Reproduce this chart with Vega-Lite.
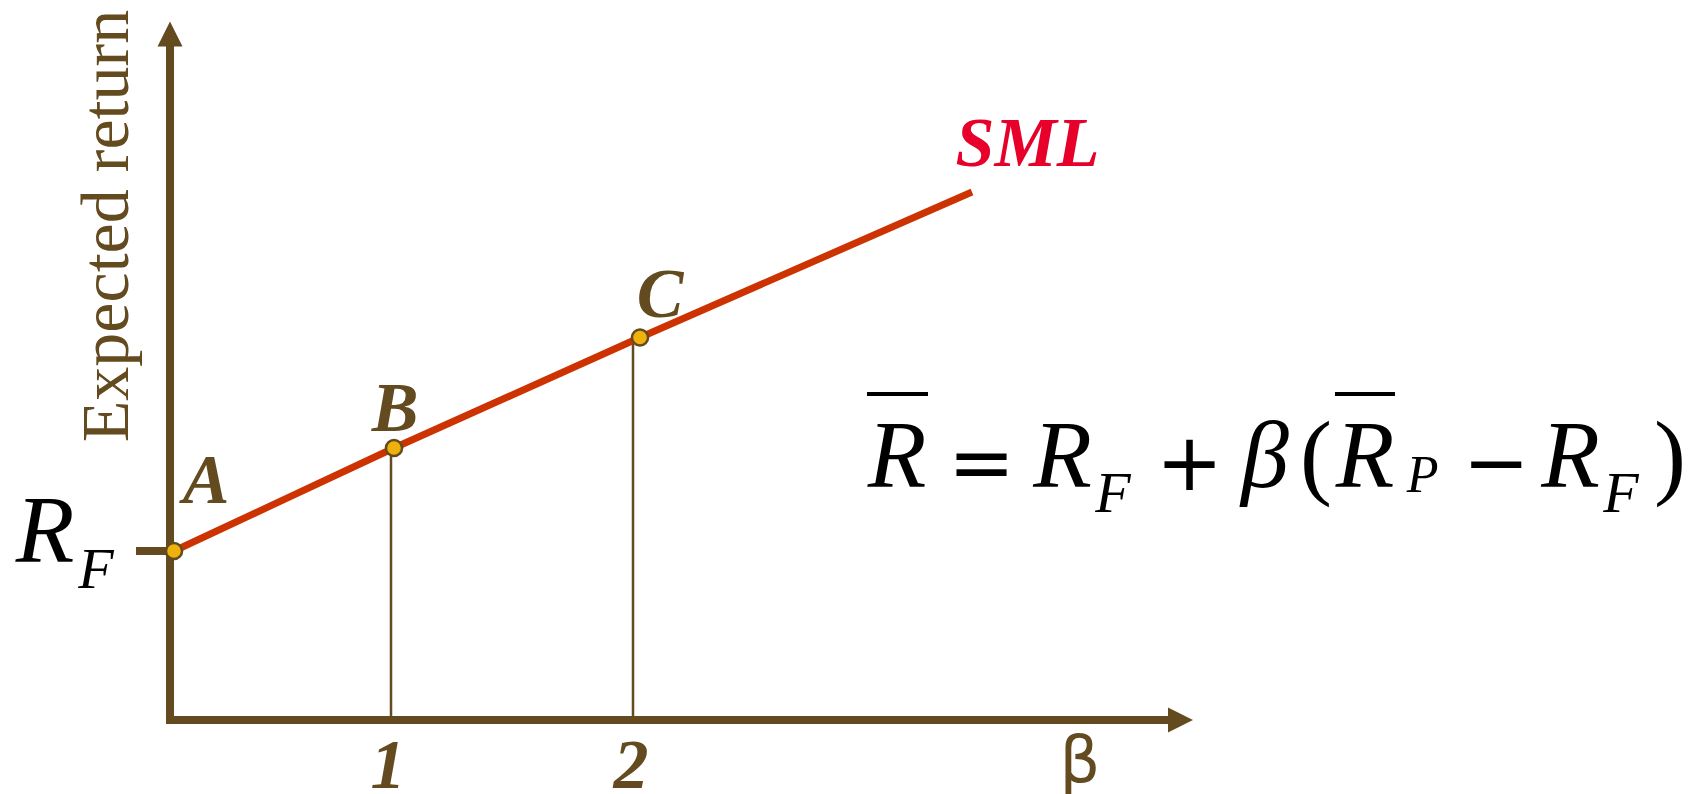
{
  "$schema": "https://vega.github.io/schema/vega-lite/v6.json",
  "width": 1704,
  "height": 794,
  "padding": 0,
  "autosize": {"type": "none"},
  "background": "white",
  "config": {"view": {"stroke": null}},
  "datasets": {
    "axisLines": [
      {"part": "y axis", "x": 0.0868, "y": 0, "x2": 0.0868, "y2": 16.09},
      {"part": "x axis", "x": 0.0702, "y": 0, "x2": 4.2397, "y2": 0},
      {"part": "RF tick", "x": -0.0537, "y": 4.0, "x2": 0.0868, "y2": 4.0}
    ],
    "arrowUp": [{"part": "y arrow", "x": 0.0868, "y": 16.237}],
    "arrowRight": [{"part": "x arrow", "x": 4.2624, "y": 0}],
    "drops": [
      {"point": "B", "x": 1, "y": 0, "y2": 6.438},
      {"point": "C", "x": 2, "y": 0, "y2": 9.053}
    ],
    "sml": [
      {"point": "A", "x": 0.1033, "y": 4.0, "order": 1},
      {"point": "B", "x": 1.0124, "y": 6.438, "order": 2},
      {"point": "C", "x": 2.0289, "y": 9.053, "order": 3},
      {"point": "end", "x": 3.4008, "y": 12.497, "order": 4}
    ],
    "pointLabels": [
      {"label": "A", "x": 0.2355, "y": 5.136},
      {"label": "B", "x": 1.0165, "y": 6.84},
      {"label": "C", "x": 2.1116, "y": 9.538},
      {"label": "1", "x": 0.9876, "y": -1.609},
      {"label": "2", "x": 1.9917, "y": -1.609}
    ],
    "smlLabel": [{"label": "SML", "x": 3.6302, "y": 13.112}],
    "betaLabel": [{"label": "β", "x": 3.847, "y": -1.467}],
    "yTitle": [{"label": "Expected return", "x": -0.0868, "y": 11.692}],
    "rfBig": [{"label": "R", "x": -0.4298, "y": 3.74}],
    "rfSub": [{"label": "F", "x": -0.219, "y": 3.124}],
    "formulaItalic": [
      {"label": "R", "x": 3.0909, "y": 5.515},
      {"label": "R", "x": 3.775, "y": 5.515},
      {"label": "β", "x": 4.6116, "y": 5.515},
      {"label": "R", "x": 5.0248, "y": 5.515},
      {"label": "R", "x": 5.874, "y": 5.515}
    ],
    "formulaParens": [
      {"label": "(", "x": 4.8223, "y": 5.515},
      {"label": ")", "x": 6.285, "y": 5.515}
    ],
    "formulaOps": [
      {"label": "=", "x": 3.44, "y": 5.444},
      {"label": "+", "x": 4.2996, "y": 5.444},
      {"label": "−", "x": 5.5661, "y": 5.444}
    ],
    "formulaSubF": [
      {"label": "F", "x": 3.983, "y": 4.923},
      {"label": "F", "x": 6.0826, "y": 4.923}
    ],
    "formulaSubP": [{"label": "P", "x": 5.2624, "y": 5.396}],
    "overlines": [
      {"over": "R", "x": 2.967, "x2": 3.219, "y": 7.716, "y2": 7.716},
      {"over": "R_P", "x": 4.9008, "x2": 5.1488, "y": 7.716, "y2": 7.716}
    ]
  },
  "encoding": {
    "x": {"field": "x", "type": "quantitative", "scale": {"domain": [-0.6157, 6.4256], "zero": false, "nice": false}, "axis": null},
    "y": {"field": "y", "type": "quantitative", "scale": {"domain": [-1.7515, 17.0414], "zero": false, "nice": false}, "axis": null}
  },
  "layer": [
    {
      "data": {"name": "drops"},
      "mark": {"type": "rule", "color": "#634B1F", "strokeWidth": 2.5},
      "encoding": {"y2": {"field": "y2"}}
    },
    {
      "data": {"name": "axisLines"},
      "mark": {"type": "rule", "color": "#634B1F", "strokeWidth": 8, "strokeCap": "butt"},
      "encoding": {"x2": {"field": "x2"}, "y2": {"field": "y2"}}
    },
    {
      "data": {"name": "arrowUp"},
      "mark": {"type": "point", "shape": "M0,-1L-1,1L1,1Z", "filled": true, "fill": "#634B1F", "strokeWidth": 0, "size": 625, "opacity": 1}
    },
    {
      "data": {"name": "arrowRight"},
      "mark": {"type": "point", "shape": "M1,0L-1,-1L-1,1Z", "filled": true, "fill": "#634B1F", "strokeWidth": 0, "size": 625, "opacity": 1}
    },
    {
      "data": {"name": "sml"},
      "mark": {"type": "line", "color": "#CC3300", "strokeWidth": 7, "strokeCap": "butt"},
      "encoding": {"order": {"field": "order", "type": "quantitative"}}
    },
    {
      "data": {"name": "sml"},
      "transform": [{"filter": "datum.point != 'end'"}],
      "mark": {"type": "point", "shape": "circle", "filled": true, "fill": "#EFB20D", "stroke": "#634B1F", "strokeWidth": 2.5, "size": 260, "opacity": 1}
    },
    {
      "data": {"name": "pointLabels"},
      "mark": {"type": "text", "font": "Liberation Serif", "fontStyle": "italic", "fontWeight": "bold", "fontSize": 70, "color": "#634B1F", "align": "center", "baseline": "alphabetic"},
      "encoding": {"text": {"field": "label"}}
    },
    {
      "data": {"name": "smlLabel"},
      "mark": {"type": "text", "font": "Liberation Serif", "fontStyle": "italic", "fontWeight": "bold", "fontSize": 70, "color": "#E6002A", "align": "center", "baseline": "alphabetic"},
      "encoding": {"text": {"field": "label"}}
    },
    {
      "data": {"name": "betaLabel"},
      "mark": {"type": "text", "font": "DejaVu Sans", "fontSize": 64, "color": "#634B1F", "align": "center", "baseline": "alphabetic"},
      "encoding": {"text": {"field": "label"}}
    },
    {
      "data": {"name": "yTitle"},
      "mark": {"type": "text", "font": "Liberation Serif", "fontSize": 68, "color": "#634B1F", "align": "center", "baseline": "alphabetic", "angle": -90},
      "encoding": {"text": {"field": "label"}}
    },
    {
      "data": {"name": "rfBig"},
      "mark": {"type": "text", "font": "Liberation Serif", "fontStyle": "italic", "fontSize": 96, "color": "black", "align": "center", "baseline": "alphabetic"},
      "encoding": {"text": {"field": "label"}}
    },
    {
      "data": {"name": "rfSub"},
      "mark": {"type": "text", "font": "Liberation Serif", "fontStyle": "italic", "fontSize": 58, "color": "black", "align": "center", "baseline": "alphabetic"},
      "encoding": {"text": {"field": "label"}}
    },
    {
      "data": {"name": "formulaItalic"},
      "mark": {"type": "text", "font": "Liberation Serif", "fontStyle": "italic", "fontSize": 96, "color": "black", "align": "center", "baseline": "alphabetic"},
      "encoding": {"text": {"field": "label"}}
    },
    {
      "data": {"name": "formulaParens"},
      "mark": {"type": "text", "font": "Liberation Serif", "fontSize": 96, "color": "black", "align": "center", "baseline": "alphabetic"},
      "encoding": {"text": {"field": "label"}}
    },
    {
      "data": {"name": "formulaOps"},
      "mark": {"type": "text", "font": "DejaVu Sans", "fontSize": 80, "color": "black", "align": "center", "baseline": "alphabetic"},
      "encoding": {"text": {"field": "label"}}
    },
    {
      "data": {"name": "formulaSubF"},
      "mark": {"type": "text", "font": "Liberation Serif", "fontStyle": "italic", "fontSize": 58, "color": "black", "align": "center", "baseline": "alphabetic"},
      "encoding": {"text": {"field": "label"}}
    },
    {
      "data": {"name": "formulaSubP"},
      "mark": {"type": "text", "font": "Liberation Serif", "fontStyle": "italic", "fontSize": 52, "color": "black", "align": "center", "baseline": "alphabetic"},
      "encoding": {"text": {"field": "label"}}
    },
    {
      "data": {"name": "overlines"},
      "mark": {"type": "rule", "color": "black", "strokeWidth": 4, "strokeCap": "butt"},
      "encoding": {"x2": {"field": "x2"}, "y2": {"field": "y2"}}
    }
  ]
}
